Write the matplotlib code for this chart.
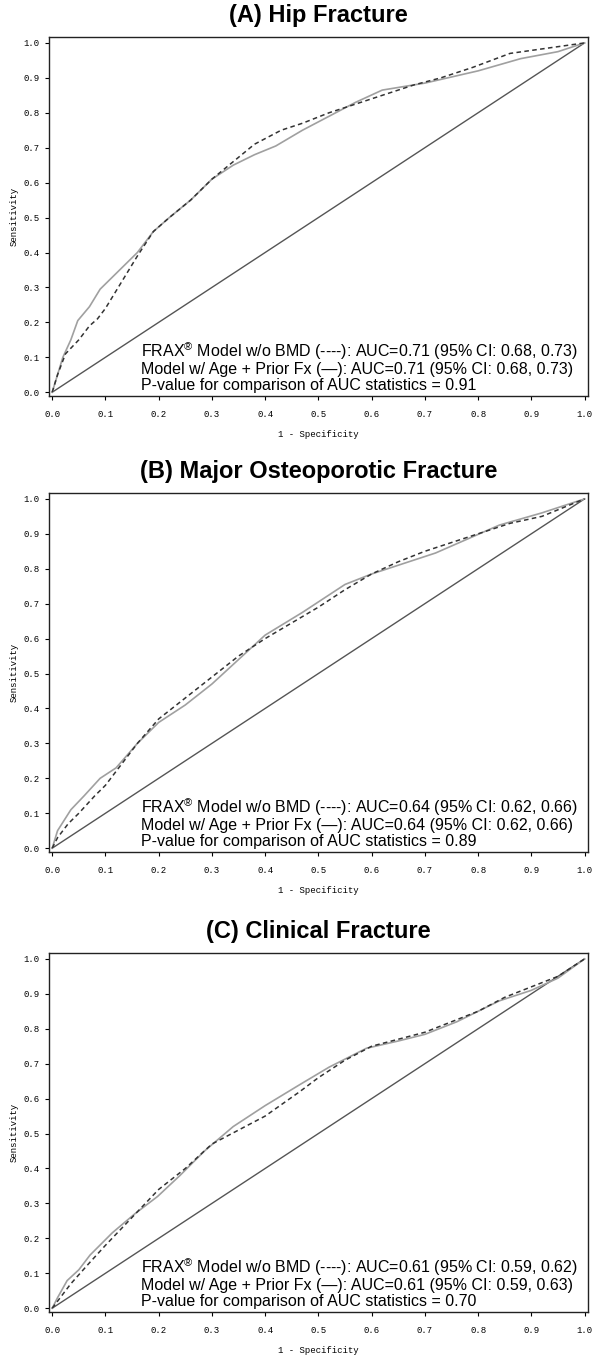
import matplotlib
matplotlib.use('Agg')
import matplotlib.pyplot as plt

plt.rcParams['font.family'] = ['Liberation Sans', 'DejaVu Sans']
plt.rcParams['mathtext.fontset'] = 'custom'
plt.rcParams['mathtext.rm'] = 'Liberation Sans'

# (A) hip fracture
hip_frax_x = [0, 0.01, 0.025, 0.05, 0.07, 0.085, 0.1, 0.12, 0.14, 0.16, 0.19, 0.22, 0.26, 0.3,
              0.34, 0.38, 0.43, 0.47, 0.52, 0.56, 0.62, 0.68, 0.73, 0.79, 0.86, 0.93, 1.0]
hip_frax_y = [0, 0.05, 0.11, 0.15, 0.19, 0.21, 0.24, 0.29, 0.34, 0.39, 0.46, 0.50, 0.55, 0.61,
              0.66, 0.71, 0.75, 0.77, 0.80, 0.82, 0.85, 0.88, 0.90, 0.93, 0.97, 0.985, 1.0]
hip_age_x = [0, 0.01, 0.02, 0.035, 0.048, 0.07, 0.09, 0.12, 0.16, 0.19, 0.22, 0.26, 0.3, 0.34,
             0.38, 0.42, 0.47, 0.52, 0.57, 0.62, 0.7, 0.8, 0.88, 0.95, 1.0]
hip_age_y = [0, 0.05, 0.1, 0.15, 0.205, 0.245, 0.295, 0.34, 0.40, 0.46, 0.50, 0.55, 0.61, 0.65,
             0.68, 0.705, 0.75, 0.79, 0.83, 0.865, 0.885, 0.92, 0.955, 0.975, 1.0]

# (B) major osteoporotic fracture
mof_frax_x = [0, 0.01, 0.03, 0.05, 0.08, 0.1, 0.13, 0.16, 0.2, 0.25, 0.3, 0.35, 0.4, 0.45, 0.5,
              0.55, 0.6, 0.65, 0.7, 0.75, 0.8, 0.86, 0.92, 1.0]
mof_frax_y = [0, 0.03, 0.07, 0.1, 0.15, 0.18, 0.24, 0.3, 0.37, 0.43, 0.49, 0.55, 0.6, 0.645, 0.69,
              0.74, 0.785, 0.82, 0.85, 0.875, 0.9, 0.93, 0.95, 1.0]
mof_age_x = [0, 0.01, 0.035, 0.06, 0.09, 0.12, 0.16, 0.2, 0.25, 0.3, 0.35, 0.4, 0.47, 0.55, 0.6,
             0.66, 0.72, 0.78, 0.84, 0.92, 1.0]
mof_age_y = [0, 0.05, 0.11, 0.15, 0.2, 0.23, 0.3, 0.36, 0.41, 0.47, 0.54, 0.61, 0.675, 0.755, 0.785,
             0.815, 0.845, 0.885, 0.925, 0.96, 1.0]

# (C) clinical fracture
cf_frax_x = [0, 0.01, 0.035, 0.07, 0.1, 0.15, 0.2, 0.25, 0.3, 0.35, 0.4, 0.465, 0.5, 0.55, 0.6,
             0.65, 0.7, 0.75, 0.8, 0.85, 0.9, 0.95, 1.0]
cf_frax_y = [0, 0.02, 0.07, 0.13, 0.18, 0.26, 0.34, 0.40, 0.47, 0.51, 0.55, 0.62, 0.66, 0.71, 0.75,
             0.77, 0.79, 0.82, 0.85, 0.89, 0.92, 0.95, 1.0]
cf_age_x = [0, 0.01, 0.028, 0.05, 0.071, 0.113, 0.155, 0.198, 0.24, 0.286, 0.34, 0.4, 0.465, 0.52,
            0.59, 0.65, 0.7, 0.76, 0.84, 0.9, 0.95, 1.0]
cf_age_y = [0, 0.03, 0.079, 0.11, 0.152, 0.216, 0.27, 0.32, 0.38, 0.45, 0.52, 0.58, 0.64, 0.69,
            0.744, 0.765, 0.784, 0.82, 0.88, 0.91, 0.945, 1.0]

titles = ['(A) Hip Fracture', '(B) Major Osteoporotic Fracture', '(C) Clinical Fracture']
frax_auc = ['0.71 (95% CI: 0.68, 0.73)', '0.64 (95% CI: 0.62, 0.66)', '0.61 (95% CI: 0.59, 0.62)']
age_auc = ['0.71 (95% CI: 0.68, 0.73)', '0.64 (95% CI: 0.62, 0.66)', '0.61 (95% CI: 0.59, 0.63)']
pvals = ['0.91', '0.89', '0.70']
ticks = [0.0, 0.1, 0.2, 0.3, 0.4, 0.5, 0.6, 0.7, 0.8, 0.9, 1.0]

curves = [(hip_frax_x, hip_frax_y, hip_age_x, hip_age_y),
          (mof_frax_x, mof_frax_y, mof_age_x, mof_age_y),
          (cf_frax_x, cf_frax_y, cf_age_x, cf_age_y)]

fig = plt.figure(figsize=(5.92, 13.55), dpi=100)
bottoms = [0.7077, 0.3712, 0.0317]
mono = 'Liberation Mono'

for i in range(3):
    ax = fig.add_axes([0.0828, bottoms[i], 0.910, 0.265])
    fx, fy, ax_, ay = curves[i]
    ax.plot([0, 1], [0, 1], color='#555555', lw=1.0)
    ax.plot(ax_, ay, color='#a0a0a0', lw=1.2)
    ax.plot(fx, fy, color='#333333', lw=1.1, dashes=(3, 2.2))
    ax.set_xlim(-0.006, 1.006)
    ax.set_ylim(-0.011, 1.017)
    ax.set_xticks(ticks)
    ax.set_yticks(ticks)
    ax.set_xticklabels(['%.1f' % t for t in ticks], fontfamily=mono, fontsize=6.5)
    ax.set_yticklabels(['%.1f' % t for t in ticks], fontfamily=mono, fontsize=6.5)
    ax.tick_params(direction='out', length=3, width=0.8, pad=4)
    ax.tick_params(axis='x', pad=7)
    ax.set_xlabel('1 - Specificity', fontfamily=mono, fontsize=6.5, labelpad=8)
    ax.set_ylabel('Sensitivity', fontfamily=mono, fontsize=6.5, labelpad=3)
    for s in ax.spines.values():
        s.set_linewidth(1.0)
        s.set_color('#222222')
    ax.set_title(titles[i], fontsize=17, fontweight='bold', pad=11)
    txt = ('FRAX$^{\\mathrm{®}}$ Model w/o BMD (----): AUC=' + frax_auc[i] + '\n'
           'Model w/ Age + Prior Fx (\u2014): AUC=' + age_auc[i] + '\n'
           'P-value for comparison of AUC statistics = ' + pvals[i])
    ax.text(0.171, 0.082, txt, transform=ax.transAxes, fontsize=11.5,
            va='center', ha='left', linespacing=1.05)

fig.savefig('out.png', dpi=100)
